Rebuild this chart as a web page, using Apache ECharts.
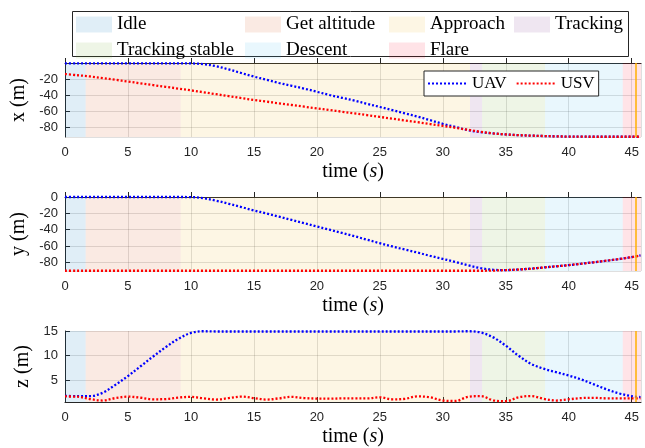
<!DOCTYPE html>
<html>
<head>
<meta charset="utf-8">
<script src="https://cdn.jsdelivr.net/npm/echarts@6/dist/echarts.min.js"></script>
<style>
html,body{margin:0;padding:0;background:#fff;}
#chart{width:645px;height:448px;}
</style>
</head>
<body>
<div id="chart"></div>
<script>
// ---------- data ----------
const time = [0,1,2,3,4,5,6,7,8,9,10,11,12,13,14,15,16,17,18,19,20,21,22,23,24,25,26,27,28,29,30,31,32,33,34,35,36,37,38,39,40,41,42,43,44,45,45.7];

const uavX = [-0.4,-0.4,-0.4,-0.4,-0.4,-0.4,-0.4,-0.4,-0.4,-0.4,-0.5,-1.5,-4,-8,-12.5,-17,-21,-25,-28.5,-32,-36,-40,-43.5,-47,-51,-55,-59,-63,-67,-71.5,-76,-80,-84,-86.5,-88,-89.3,-90.2,-90.8,-91.3,-91.7,-92,-92.1,-92.2,-92.2,-92.2,-92.2,-92.2];
const usvX = [-13.8,-15.3,-16.8,-18.9,-21,-23.2,-25.4,-27.6,-29.8,-32,-34.2,-36.6,-39,-41.4,-43.8,-46.2,-48.3,-50.4,-52.5,-54.6,-56.7,-58.8,-60.9,-63,-65.2,-67.4,-69.6,-71.8,-74,-76.3,-78.6,-81,-83.5,-86,-88,-89.3,-90.2,-90.8,-91.3,-91.7,-92,-92.1,-92.2,-92.2,-92.2,-92.2,-92.2];

const uavY = [0,0,0,0,0,0,0,0,0,0,-0.1,-1.5,-4.5,-8.3,-12.3,-16.4,-20.2,-24,-28,-32,-36,-40,-44,-48,-52.3,-56.5,-60.5,-64.3,-68,-72,-75.7,-79.5,-83.5,-87,-89,-89.4,-88.7,-87.6,-86.2,-84.8,-83.3,-81.6,-79.8,-77.9,-75.9,-73.5,-71.5];
const usvY = [-90.2,-90.2,-90.2,-90.2,-90.2,-90.2,-90.2,-90.2,-90.2,-90.2,-90.2,-90.2,-90.2,-90.2,-90.2,-90.2,-90.2,-90.2,-90.2,-90.2,-90.2,-90.2,-90.2,-90.2,-90.2,-90.2,-90.2,-90.2,-90.2,-90.2,-90.2,-90.2,-90.2,-90.2,-90,-89.4,-88.7,-87.6,-86.2,-84.8,-83.3,-81.6,-79.8,-77.9,-75.9,-73.5,-71.5];

const uavZ = [1.75,1.7,1.7,2.4,4.0,5.8,7.8,9.8,11.7,13.4,14.6,14.95,14.9,14.9,14.9,14.9,14.9,14.9,14.9,14.9,14.9,14.9,14.9,14.9,14.9,14.9,14.9,14.9,14.9,14.9,14.9,14.9,14.95,14.7,13.7,12.0,10.0,8.3,7.3,6.6,5.9,5.1,4.1,3.1,2.25,1.7,1.5];
const usvZ = [1.63,1.58,1.1,0.8,1.3,1.6,1.37,1.05,1.1,1.4,1.55,1.25,1.0,1.3,1.6,1.3,1.0,1.25,1.55,1.3,1.2,1.17,1.24,1.24,1.24,1.45,1.05,1.15,1.65,1.45,0.8,0.7,1.55,1.7,0.85,0.65,1.45,1.72,1.15,0.8,1.05,1.3,1.35,1.25,1.25,1.25,1.25];

const phaseNames  = ['Idle','Get altitude','Approach','Tracking','Tracking stable','Descent','Flare'];
const phaseStart  = [0, 1.64, 9.19, 32.16, 33.12, 38.12, 44.29];
const phaseEnd    = [1.64, 9.19, 32.16, 33.12, 38.12, 44.29, 45.74];
const landingTime = 45.34;

const xTickStep = 5;
const timeMax = 45.74;
const yRanges = [[-92.5, 0], [-90.5, 0], [0.5, 15]];
const ySplits = [5, 5, 3];
const yNames = ['x (m)', 'y (m)', 'z (m)'];

// ---------- styles ----------
const phaseColors = [
  'rgba(0,114,189,0.12)',
  'rgba(217,83,25,0.12)',
  'rgba(237,177,32,0.12)',
  'rgba(126,47,142,0.12)',
  'rgba(119,172,48,0.12)',
  'rgba(77,190,238,0.12)',
  'rgba(255,0,40,0.11)'
];
const axisColor = '#262626';
const gridColor = 'rgba(38,38,38,0.15)';
const serif = '"Liberation Serif", "Times New Roman", serif';
const sans = '"Liberation Sans", Arial, sans-serif';

const grids = [
  {left: 65, top: 63, width: 576, height: 74},
  {left: 65, top: 197, width: 576, height: 74},
  {left: 65, top: 331, width: 576, height: 75}
];

const xAxes = grids.map((g, i) => ({
  type: 'value', gridIndex: i, min: 0, max: timeMax, interval: xTickStep,
  name: 'time ({it|s})', nameLocation: 'middle', nameGap: 25,
  nameTextStyle: {fontFamily: serif, fontSize: 20, color: '#000',
    rich: {it: {fontFamily: serif, fontSize: 20, fontStyle: 'italic', color: '#000'}}},
  axisLine: {show: true, lineStyle: {color: axisColor, width: 1}},
  axisTick: {show: true, inside: true, length: 5, lineStyle: {color: axisColor}},
  axisLabel: {fontFamily: sans, fontSize: 13, color: axisColor, margin: 9, showMaxLabel: false},
  splitLine: {show: true, lineStyle: {color: gridColor, width: 1}}
}));

const yAxes = grids.map((g, i) => ({
  type: 'value', gridIndex: i, min: yRanges[i][0], max: yRanges[i][1], splitNumber: ySplits[i],
  name: yNames[i], nameLocation: 'middle', nameGap: 30, nameRotate: 90,
  nameTextStyle: {fontFamily: serif, fontSize: 20, color: '#000'},
  axisLine: {show: true, lineStyle: {color: axisColor, width: 1}},
  axisTick: {show: true, inside: true, length: 5, lineStyle: {color: axisColor}},
  axisLabel: {fontFamily: sans, fontSize: 13, color: axisColor, margin: 7,
    showMinLabel: false, showMaxLabel: i !== 0},
  splitLine: {show: true, lineStyle: {color: gridColor, width: 1}}
}));

const series = [];
for (let g = 0; g < 3; g++) {
  phaseNames.forEach((name, p) => {
    series.push({
      type: 'line', name: name, xAxisIndex: g, yAxisIndex: g, data: [],
      itemStyle: {color: phaseColors[p]}, lineStyle: {color: phaseColors[p]},
      markArea: {silent: true, itemStyle: {color: phaseColors[p]},
        data: [[{xAxis: phaseStart[p]}, {xAxis: phaseEnd[p]}]]}
    });
  });
}
const dataSets = [[uavX, usvX], [uavY, usvY], [uavZ, usvZ]];
for (let g = 0; g < 3; g++) {
  ['UAV', 'USV'].forEach((name, k) => {
    const vals = dataSets[g][k];
    series.push({
      type: 'line', name: name, xAxisIndex: g, yAxisIndex: g,
      data: time.map((t, j) => [t, vals[j]]),
      smooth: 0.35, symbol: 'none', showSymbol: false, clip: false,
      itemStyle: {color: k === 0 ? '#0000ff' : '#ff0000'},
      lineStyle: {color: k === 0 ? '#0000ff' : '#ff0000', width: 2.3, type: [2, 2]},
      z: 3 + k,
      markLine: k === 1 ? {silent: true, symbol: 'none', label: {show: false},
        lineStyle: {color: '#FFB000', width: 1.5, type: 'solid'},
        data: [{xAxis: landingTime}]} : undefined
    });
  });
}

const legendText = {fontFamily: serif, fontSize: 19, color: '#000', lineHeight: 16, padding: [0, 0, 5, 0]};
const colDefs = [
  {left: 76, names: ['Idle', 'Tracking stable']},
  {left: 245, names: ['Get altitude', 'Descent']},
  {left: 389, names: ['Approach', 'Flare']},
  {left: 514, names: ['Tracking']}
];
const legends = colDefs.map(c => ({
  orient: 'vertical', left: c.left, top: 14, padding: 0,
  icon: 'rect', itemWidth: 36, itemHeight: 16, itemGap: 5, selectedMode: false,
  textStyle: legendText,
  data: c.names.map(n => ({name: n, icon: 'rect',
    itemStyle: {color: phaseColors[phaseNames.indexOf(n)]}}))
}));
legends.push({
  orient: 'horizontal', left: 424, top: 71, padding: [4, 4, 4, 3],
  borderColor: axisColor, borderWidth: 1, backgroundColor: '#fff',
  itemWidth: 39, itemHeight: 10, itemGap: 9, selectedMode: false,
  itemStyle: {opacity: 0},
  textStyle: {fontFamily: serif, fontSize: 17, color: '#000'},
  data: ['UAV', 'USV']
});

const chart = echarts.init(document.getElementById('chart'), null, {renderer: 'canvas'});
chart.setOption({
  animation: false,
  backgroundColor: '#fff',
  grid: grids,
  xAxis: xAxes,
  yAxis: yAxes,
  legend: legends,
  graphic: [{type: 'rect', shape: {x: 72.5, y: 11.5, width: 556, height: 45},
    style: {fill: 'none', stroke: axisColor, lineWidth: 1}, silent: true}],
  series: series
});
</script>
</body>
</html>
